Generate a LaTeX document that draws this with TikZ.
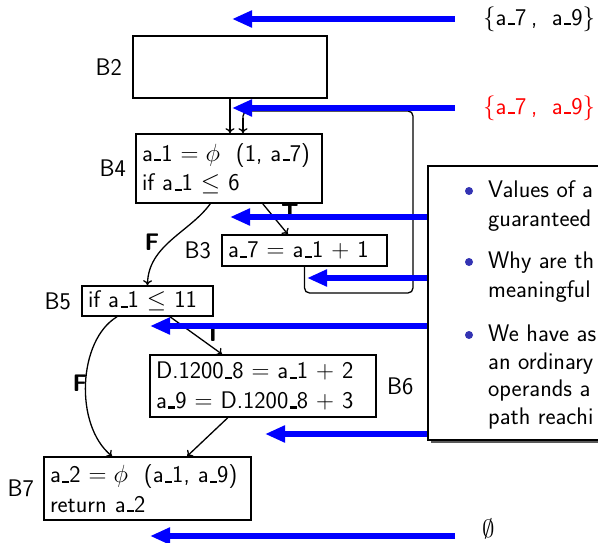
\documentclass[tikz,border=0pt]{standalone}
\usetikzlibrary{arrows.meta,positioning,calc}
\definecolor{bblue}{RGB}{0,0,255}
\definecolor{bulletc}{RGB}{51,51,179}
\newcommand{\us}{\leavevmode\kern.06em\rule[-0.01em]{0.3em}{0.085em}}
\newcommand{\setaa}{$\{$a\us7\kern0.2em,\kern0.6em a\us9$\}$}
\begin{document}
\begin{tikzpicture}[x=1pt,y=-1pt,
  font=\sffamily\fontsize{24}{29.5}\selectfont,
  blk/.style={draw, line width=1.6pt, inner xsep=6pt, inner ysep=0pt, align=left},
  lbl/.style={inner sep=0pt},
  edge/.style={line width=1.3pt, -{To[length=5pt,width=9pt]}},
  barrow/.style={draw=bblue, line width=6pt, -{Triangle[length=20pt,width=16pt]}},
  tf/.style={font=\sffamily\bfseries\fontsize{24}{28}\selectfont, inner sep=0pt},
  txt/.style={inner sep=0pt, anchor=base west},
]
\useasboundingbox (0,0) rectangle (598,543);

% blocks
\node[blk, text width=182pt, minimum height=62pt] (b2) at (230,67) {};
\node[blk, text width=174pt, minimum height=69pt] (b4) at (229,168.5)
  {a\us1 $=\phi$ \ (1, a\us7)\\ if a\us1 $\leq$ 6};
\node[blk, text width=153pt, minimum height=31pt] (b3) at (304.5,250.5)
  {a\us7 $=$ a\us1 $+$ 1};
\node[blk, text width=119pt, minimum height=30pt] (b5) at (147.5,301)
  {if a\us1 $\leq$ 11};
\node[blk, text width=214pt, minimum height=62pt] (b6) at (263,386)
  {D.1200\us8 $=$ a\us1 $+$ 2\\ a\us9 $=$ D.1200\us8 $+$ 3};
\node[blk, text width=195pt, minimum height=63pt] (b7) at (147.5,488.5)
  {a\us2 $=\phi$ \ (a\us1, a\us9)\\ return a\us2};

% block labels
\node[lbl, left=10pt of b2] (l2) {B2};
\node[lbl, left=9pt of b4] (l4) {B4};
\node[lbl, left=10pt of b3] (l3) {B3};
\node[lbl, left=10pt of b5] (l5) {B5};
\node[lbl, right=10pt of b6] (l6) {B6};
\node[lbl, left=9pt of b7] (l7) {B7};

% control flow edges
\draw[edge] (b2.south) -- (b2.south |- b4.north);
\coordinate (lr) at (413,293);
\coordinate (lt) at (243,111);
\draw[line width=1.3pt, rounded corners=5pt] (b3.south) |- (lr) |- (lt) -- (lt |- 0,120);
\draw[edge] (lt |- 0,118) -- (lt |- b4.north);
\draw[edge] ($(b4.south west)!0.68!(b4.south east)$) -- ($(b3.north west)!0.40!(b3.north east)$);
\draw[edge] ($(b4.south west)!0.40!(b4.south east)$) .. controls (190,232) and (148,245) .. (b5.north);
\draw[edge] ($(b5.south west)!0.67!(b5.south east)$) -- ($(b6.north west)!0.32!(b6.north east)$);
\draw[edge] ($(b5.south west)!0.27!(b5.south east)$) .. controls (78,340) and (74,425) .. ($(b7.north west)!0.33!(b7.north east)$);
\draw[edge] ($(b6.south west)!0.345!(b6.south east)$) -- ($(b7.north west)!0.69!(b7.north east)$);

\node[tf] (t1) at (290,212) {T};
\node[tf] (f1) at (152,242) {F};
\node[tf] (t2) at (213,333) {T};
\node[tf] (f2) at (80,383) {F};

% sets
\node[inner sep=0pt, anchor=west] (s1) at (483,19) {\setaa};
\node[inner sep=0pt, anchor=west, text=red] (s2) at (483,108) {\setaa};
\node[inner sep=0pt, anchor=west] (s7) at (482,529) {$\emptyset$};

% blue arrows
\foreach \i/\y/\tip in {1/19/232, 2/108/232, 3/217/230, 4/278/307, 5/326/150, 6/434/265, 7/536/150}{
  \coordinate (q\i) at (455,\y);
  \coordinate (p\i) at (\tip,\y);
  \draw[barrow] (q\i) -- (p\i);
}

% note box
\fill[black!65] (431,169) rectangle (620,443);
\node[draw, line width=1.6pt, fill=white, minimum width=200pt, minimum height=274pt, anchor=north west, inner sep=0pt] (note) at (427,165) {};
\foreach \y in {191,262,335}{
  \fill[bulletc] (469,\y) circle (4pt);
}
\node[txt] (n1) at (488,197) {Values of a};
\node[txt] (n2) at (488,226) {guaranteed};
\node[txt] (n3) at (488,268) {Why are th};
\node[txt] (n4) at (488,297) {meaningful};
\node[txt] (n5) at (488,341) {We have as};
\node[txt] (n6) at (488,369) {an ordinary};
\node[txt] (n7) at (488,396) {operands a};
\node[txt] (n8) at (488,424) {path reachi};
\end{tikzpicture}
\end{document}
